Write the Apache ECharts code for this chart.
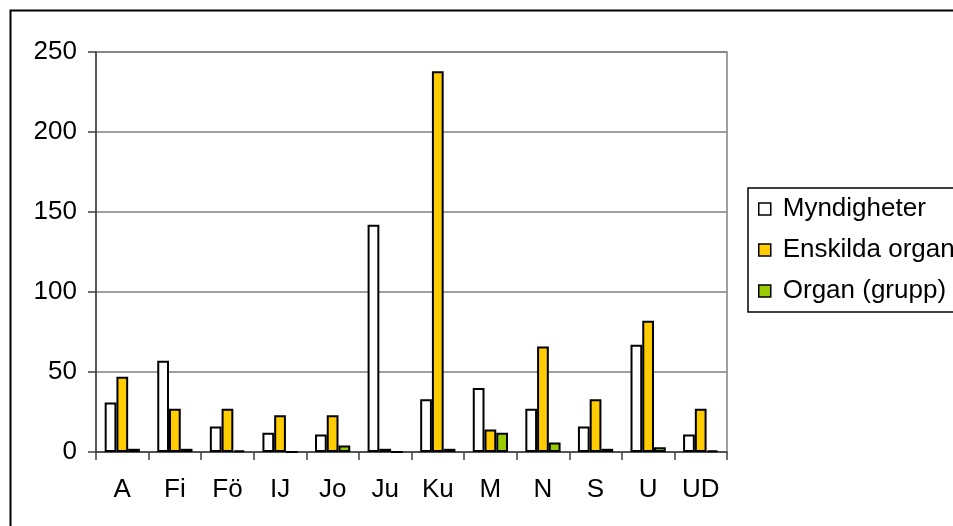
<!DOCTYPE html>
<html>
<head>
<meta charset="utf-8">
<script src="https://cdn.jsdelivr.net/npm/echarts@6/dist/echarts.min.js"></script>
<style>
html,body{margin:0;padding:0;background:#fff;}
#chart{width:953px;height:526px;}
</style>
</head>
<body>
<div id="chart"></div>
<script>
var categories = ["A", "Fi", "Fö", "IJ", "Jo", "Ju", "Ku", "M", "N", "S", "U", "UD"];
var myndigheter = [31, 57, 16, 12, 11, 142, 33, 40, 27, 16, 67, 11];
var enskildaOrgan = [47, 27, 27, 23, 23, 2, 238, 14, 66, 33, 82, 27];
var organGrupp = [2, 2, 1, 0, 4, 0, 2, 12, 6, 2, 3, 1];
var yTicks = [0, 50, 100, 150, 200, 250];
var seriesNames = ["Myndigheter", "Enskilda organ", "Organ (grupp)"];

var FONT = '"Liberation Sans", Arial, sans-serif';
var chart = echarts.init(document.getElementById('chart'), null, {renderer: 'canvas'});

function barSeries(name, data, color) {
  return {
    name: name,
    type: 'bar',
    data: data,
    barGap: '0%',
    barCategoryGap: '33%',
    itemStyle: {color: color, borderColor: '#000', borderWidth: 2},
    emphasis: {disabled: true}
  };
}

chart.setOption({
  animation: false,
  backgroundColor: '#fff',
  grid: {left: 96, right: 226, top: 52, bottom: 74, show: true, borderColor: '#808080', borderWidth: 1.5, backgroundColor: 'transparent'},
  legend: {
    orient: 'vertical',
    left: 748,
    top: 188,
    padding: [8, 30, 8, 10],
    itemGap: 15,
    itemWidth: 12,
    itemHeight: 12,
    icon: 'rect',
    borderColor: '#000',
    borderWidth: 1.5,
    itemStyle: {borderColor: '#000', borderWidth: 1.5},
    textStyle: {fontFamily: FONT, fontSize: 26, color: '#000', padding: [0, 0, 0, 7]},
    data: seriesNames
  },
  xAxis: {
    type: 'category',
    data: categories,
    axisLine: {lineStyle: {color: '#404040', width: 1.5}},
    axisTick: {show: true, length: 8, lineStyle: {color: '#404040', width: 1.5}},
    axisLabel: {fontFamily: FONT, fontSize: 26, color: '#000', margin: 25}
  },
  yAxis: {
    type: 'value',
    min: yTicks[0],
    max: yTicks[yTicks.length - 1],
    interval: yTicks[1] - yTicks[0],
    axisLine: {show: true, lineStyle: {color: '#404040', width: 1.5}},
    axisTick: {show: true, length: 8, lineStyle: {color: '#404040', width: 1.5}},
    axisLabel: {fontFamily: FONT, fontSize: 26, color: '#000', margin: 19},
    splitLine: {lineStyle: {color: '#808080', width: 1.5}}
  },
  series: [
    barSeries(seriesNames[0], myndigheter, '#ffffff'),
    barSeries(seriesNames[1], enskildaOrgan, '#ffcc00'),
    barSeries(seriesNames[2], organGrupp, '#99cc00')
  ],
  graphic: [{
    type: 'rect',
    shape: {x: 10.5, y: 10.5, width: 1000, height: 600},
    style: {fill: 'none', stroke: '#000', lineWidth: 2},
    silent: true,
    z: 100
  }]
});
</script>
</body>
</html>
